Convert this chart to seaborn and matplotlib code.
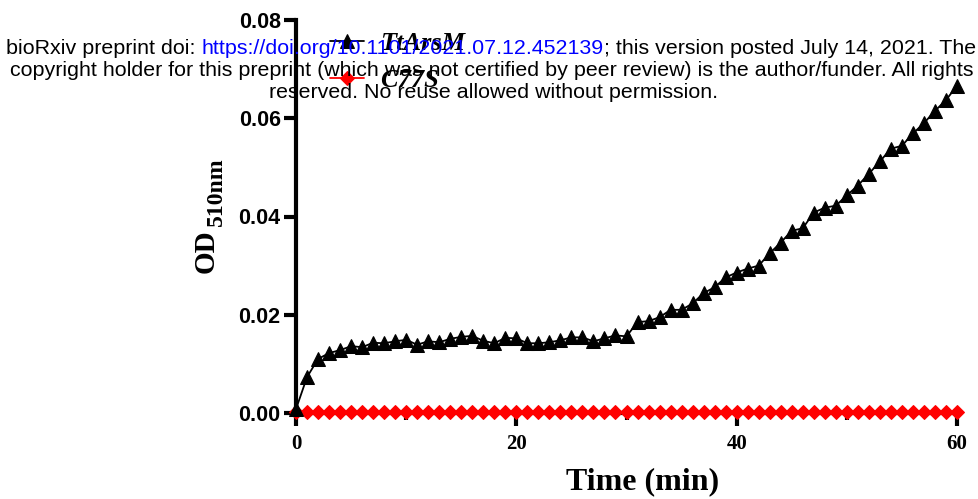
import pandas as pd
import seaborn as sns
import matplotlib.pyplot as plt
from matplotlib.ticker import MultipleLocator

# data (OD 510nm vs time)
time_min = list(range(61))
ttarsm_od = [0.0008, 0.0073, 0.0110, 0.0122, 0.0128, 0.0136, 0.0134, 0.0143, 0.0142, 0.0146,
             0.0149, 0.0139, 0.0146, 0.0144, 0.0151, 0.0155, 0.0157, 0.0147, 0.0142, 0.0153,
             0.0152, 0.0142, 0.0142, 0.0144, 0.0148, 0.0154, 0.0154, 0.0146, 0.0152, 0.0158,
             0.0156, 0.0185, 0.0187, 0.0195, 0.0210, 0.0210, 0.0223, 0.0244, 0.0256, 0.0276,
             0.0286, 0.0294, 0.0300, 0.0325, 0.0347, 0.0371, 0.0376, 0.0408, 0.0418, 0.0422,
             0.0443, 0.0463, 0.0487, 0.0512, 0.0538, 0.0544, 0.0569, 0.0590, 0.0615, 0.0637,
             0.0666]
c77s_od = [0.0003, 0.0003, 0.0003, 0.0003, 0.0003, 0.0003, 0.0003, 0.0003, 0.0003, 0.0003,
           0.0003, 0.0003, 0.0003, 0.0003, 0.0003, 0.0003, 0.0003, 0.0003, 0.0003, 0.0003,
           0.0003, 0.0003, 0.0003, 0.0003, 0.0003, 0.0003, 0.0003, 0.0003, 0.0003, 0.0003,
           0.0003, 0.0003, 0.0003, 0.0003, 0.0003, 0.0003, 0.0003, 0.0003, 0.0003, 0.0003,
           0.0003, 0.0003, 0.0003, 0.0003, 0.0003, 0.0003, 0.0003, 0.0003, 0.0003, 0.0003,
           0.0003, 0.0003, 0.0003, 0.0003, 0.0003, 0.0003, 0.0003, 0.0003, 0.0003, 0.0003,
           0.0003]
x_ticks = [0, 20, 40, 60]
y_ticks = [0.00, 0.02, 0.04, 0.06, 0.08]

df = pd.DataFrame({'Time': time_min, 'TtArsM': ttarsm_od, 'C77S': c77s_od})

sns.set_theme(style='ticks')
plt.rcParams['font.family'] = ['Liberation Sans', 'DejaVu Sans']
for key in ['text.color', 'axes.labelcolor', 'xtick.color', 'ytick.color']:
    plt.rcParams[key] = 'black'

fig = plt.figure(figsize=(9.79, 4.99), dpi=100)
ax = fig.add_axes([296 / 979, 1 - 413 / 499, (957 - 296) / 979, (413 - 20) / 499])

sns.lineplot(data=df, x='Time', y='TtArsM', ax=ax, color='black', marker='^', markersize=10,
             markeredgecolor='black', linewidth=1.3, label='TtArsM', clip_on=False, zorder=4)
sns.lineplot(data=df, x='Time', y='C77S', ax=ax, color='red', marker='D', markersize=7.5,
             markeredgecolor='red', linewidth=1.3, label='C77S', clip_on=False, zorder=3)

ax.set_xlim(0, 60)
ax.set_ylim(0, 0.08)
ax.set_xticks(x_ticks)
ax.xaxis.set_minor_locator(MultipleLocator(10))
ax.set_yticks(y_ticks)
ax.set_yticklabels([f'{v:.2f}' for v in y_ticks])

for side in ['top', 'right']:
    ax.spines[side].set_visible(False)
for side in ['left', 'bottom']:
    ax.spines[side].set_linewidth(3)
    ax.spines[side].set_color('black')
ax.tick_params(axis='y', which='major', length=9, width=3, pad=2)
ax.tick_params(axis='x', which='major', length=9, width=3, pad=6)
ax.tick_params(axis='x', which='minor', length=5, width=3)
for lab in ax.get_yticklabels():
    lab.set_fontsize(15.5)
    lab.set_fontweight('bold')
for lab in ax.get_xticklabels():
    lab.set_fontfamily('Liberation Serif')
    lab.set_fontsize(15)
    lab.set_fontweight('bold')

ax.set_xlabel('Time (min)', fontsize=23, fontweight='bold', family='Liberation Serif')
ax.xaxis.set_label_coords((643 - 296) / 661, -0.137)

# y label: "OD" with a large subscript-like "510nm"
ax.set_ylabel('OD', fontsize=21, fontweight='bold', family='Liberation Serif', va='center')
ax.yaxis.set_label_coords((206 - 296) / 661, (413 - 251) / 393)
ax.text((216 - 296) / 661, (413 - 192) / 393, '510nm', transform=ax.transAxes, rotation=90,
        ha='center', va='center', fontsize=17, fontweight='bold', family='Liberation Serif')

leg = ax.legend(loc='upper left', bbox_to_anchor=(330 / 979, 1 - 32 / 499), bbox_transform=fig.transFigure,
                frameon=False, handlelength=1.3, handletextpad=0.6, labelspacing=0.5, borderpad=0,
                borderaxespad=0, prop={'family': 'Liberation Serif', 'style': 'italic', 'weight': 'bold', 'size': 19})

# bioRxiv header stamped over the figure
fig.canvas.draw()
renderer = fig.canvas.get_renderer()
head_kw = dict(fontsize=15.4, family='Liberation Sans', va='center', zorder=10)
parts = [('bioRxiv preprint doi: ', 'black'),
         ('https://doi.org/10.1101/2021.07.12.452139', 'blue'),
         ('; this version posted July 14, 2021. The', 'black')]
texts = [fig.text(0, 0, p, color=c, **head_kw) for p, c in parts]
widths = [t.get_window_extent(renderer).width for t in texts]
x0 = 491 - sum(widths) / 2
for t, w in zip(texts, widths):
    t.set_position((x0 / 979, 1 - 49 / 499))
    x0 += w
fig.text(492 / 979, 1 - 71 / 499,
         'copyright holder for this preprint (which was not certified by peer review) is the author/funder. All rights',
         ha='center', **head_kw)
fig.text(494 / 979, 1 - 93 / 499, 'reserved. No reuse allowed without permission.', ha='center', **head_kw)

fig.savefig('out.png', dpi=100)
